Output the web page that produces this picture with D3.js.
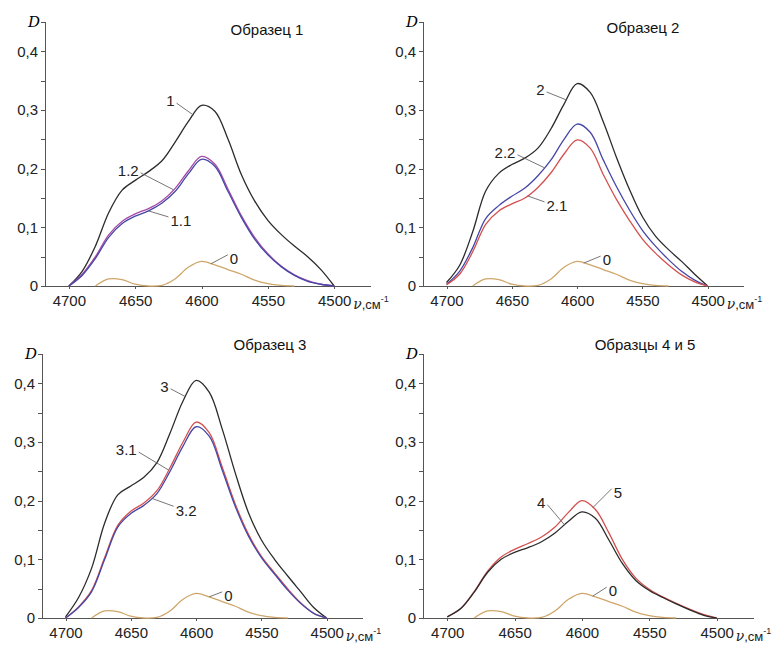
<!DOCTYPE html>
<meta charset="utf-8">
<style>
body {
  margin: 0;
  background: #fff;
  font-family: "Liberation Sans", Arial, sans-serif;
}
.axis line, .axis path { stroke: #555; shape-rendering: crispEdges; }
.tick text { font-size: 15px; fill: #222; }
.title { font-size: 15px; fill: #111; text-anchor: middle; }
.curve { fill: none; stroke-width: 1.3px; }
.lbl { font-size: 15px; fill: #222; }
.leader { stroke: #666; stroke-width: 0.9px; }
.ital { font-family: "DejaVu Serif", "Liberation Serif", serif; font-style: italic; }
</style>
<body>
<script src="https://cdn.jsdelivr.net/npm/d3@7"></script>
<script>
// wavenumbers, cm-1
var nu = [4700, 4690, 4680, 4670, 4660, 4650, 4640, 4630, 4620, 4610, 4600,
          4590, 4580, 4570, 4560, 4550, 4540, 4530, 4520, 4510, 4500];

// optical density D
var d0  = [null, null, 0, 0.012, 0.011, 0.003, 0, 0.001, 0.012, 0.032, 0.042,
           0.036, 0.028, 0.02, 0.01, 0.004, 0.001, 0, null, null, null];

var d1  = [0, 0.025, 0.068, 0.125, 0.163, 0.18, 0.195, 0.213, 0.245, 0.28, 0.308,
           0.298, 0.25, 0.19, 0.145, 0.112, 0.088, 0.068, 0.05, 0.028, 0];
var d11 = [0, 0.018, 0.047, 0.083, 0.106, 0.119, 0.128, 0.141, 0.161, 0.191, 0.216,
           0.204, 0.161, 0.117, 0.08, 0.053, 0.033, 0.018, 0.008, 0.003, 0];
var d12 = [0, 0.02, 0.05, 0.087, 0.11, 0.123, 0.132, 0.145, 0.166, 0.196, 0.221,
           0.208, 0.165, 0.12, 0.083, 0.055, 0.034, 0.019, 0.009, 0.003, 0];

var d2  = [0.006, 0.035, 0.092, 0.162, 0.192, 0.207, 0.218, 0.235, 0.268, 0.31, 0.345,
           0.33, 0.28, 0.22, 0.165, 0.118, 0.085, 0.062, 0.042, 0.02, 0];
var d21 = [0.002, 0.02, 0.058, 0.105, 0.128, 0.14, 0.15, 0.168, 0.193, 0.225, 0.249,
           0.235, 0.19, 0.148, 0.112, 0.08, 0.056, 0.036, 0.019, 0.007, 0];
var d22 = [0.003, 0.025, 0.065, 0.115, 0.137, 0.153, 0.167, 0.188, 0.215, 0.25, 0.276,
           0.262, 0.215, 0.17, 0.13, 0.095, 0.068, 0.045, 0.025, 0.01, 0];

var d3v = [0.002, 0.035, 0.085, 0.162, 0.21, 0.225, 0.24, 0.265, 0.315, 0.37, 0.405,
           0.385, 0.322, 0.247, 0.18, 0.133, 0.1, 0.072, 0.045, 0.018, 0];
var d31 = [0, 0.019, 0.047, 0.103, 0.158, 0.182, 0.196, 0.217, 0.256, 0.3, 0.334,
           0.316, 0.257, 0.194, 0.143, 0.105, 0.077, 0.05, 0.026, 0.008, 0];
var d32 = [0, 0.018, 0.045, 0.1, 0.155, 0.178, 0.192, 0.212, 0.25, 0.293, 0.326,
           0.31, 0.252, 0.19, 0.14, 0.103, 0.075, 0.048, 0.025, 0.008, 0];

var d4  = [0.002, 0.016, 0.044, 0.078, 0.1, 0.112, 0.12, 0.13, 0.145, 0.165, 0.181,
           0.17, 0.133, 0.093, 0.064, 0.047, 0.035, 0.024, 0.014, 0.005, 0];
var d5  = [0.002, 0.016, 0.045, 0.08, 0.104, 0.117, 0.127, 0.138, 0.155, 0.18, 0.2,
           0.185, 0.145, 0.1, 0.068, 0.049, 0.036, 0.025, 0.015, 0.006, 0];

var titles = ["Образец 1", "Образец 2", "Образец 3", "Образцы 4 и 5"];
var xTicks = [4700, 4650, 4600, 4550, 4500];
var yTicks = [0, 0.05, 0.1, 0.15, 0.2, 0.25, 0.3, 0.35, 0.4];
var yTickLabels = {"0": "0", "0.1": "0,1", "0.2": "0,2", "0.3": "0,3", "0.4": "0,4"};

var cBlack = "#2b2b2b", cBlue = "#4646a6", cRed = "#d4504e", cPurple = "#a54aa8", cTan = "#cfa66a";

var panels = [
  { title: titles[0], left: 45, right: 370, y0: 286, tx: 267, ty: 35,
    series: [{ k: "0", v: d0, c: cTan }, { k: "1", v: d1, c: cBlack },
             { k: "1.2", v: d12, c: cPurple }, { k: "1.1", v: d11, c: cBlue }],
    labels: [{ t: "1", s: "1", at: 4606, dx: -17, dy: -12 },
             { t: "1.2", s: "1.2", at: 4621, dx: -33, dy: -17 },
             { t: "1.1", s: "1.1", at: 4640, dx: 20, dy: 6 },
             { t: "0", s: "0", at: 4593, dx: 17, dy: -9 }] },
  { title: titles[1], left: 423, right: 743, y0: 286, tx: 643, ty: 33,
    series: [{ k: "0", v: d0, c: cTan }, { k: "2", v: d2, c: cBlack },
             { k: "2.2", v: d22, c: cBlue }, { k: "2.1", v: d21, c: cRed }],
    labels: [{ t: "2", s: "2", at: 4608, dx: -20, dy: -8 },
             { t: "2.2", s: "2.2", at: 4625, dx: -27, dy: -13 },
             { t: "2.1", s: "2.1", at: 4638, dx: 17, dy: 6 },
             { t: "0", s: "0", at: 4595, dx: 17, dy: -7 }] },
  { title: titles[2], left: 42, right: 362, y0: 618, tx: 270, ty: 350,
    series: [{ k: "0", v: d0, c: cTan }, { k: "3", v: d3v, c: cBlack },
             { k: "3.1", v: d31, c: cRed }, { k: "3.2", v: d32, c: cBlue }],
    labels: [{ t: "3", s: "3", at: 4608, dx: -15, dy: -8 },
             { t: "3.1", s: "3.1", at: 4621, dx: -30, dy: -18 },
             { t: "3.2", s: "3.2", at: 4634, dx: 22, dy: 8 },
             { t: "0", s: "0", at: 4590, dx: 13, dy: -5 }] },
  { title: titles[3], left: 423, right: 753, y0: 618, tx: 645, ty: 350,
    series: [{ k: "0", v: d0, c: cTan }, { k: "5", v: d5, c: cRed },
             { k: "4", v: d4, c: cBlack }],
    labels: [{ t: "4", s: "4", at: 4613, dx: -17, dy: -20 },
             { t: "5", s: "5", at: 4592, dx: 19, dy: -19 },
             { t: "0", s: "0", at: 4592, dx: 14, dy: -9 }] }
];

var svg = d3.select("body").append("svg").attr("width", 774).attr("height", 645);

function valueAt(arr, n) {
  for (var i = 0; i < nu.length - 1; i++) {
    if (n <= nu[i] && n >= nu[i + 1]) {
      var a = arr[i] == null ? 0 : arr[i], b = arr[i + 1] == null ? 0 : arr[i + 1];
      var f = (nu[i] - n) / (nu[i] - nu[i + 1]);
      return a + (b - a) * f;
    }
  }
  return 0;
}

panels.forEach(function(p) {
  var x = d3.scaleLinear().domain([4718, 4473]).range([p.left, p.right]);
  var y = d3.scaleLinear().domain([0, 0.45]).range([p.y0, p.y0 - 264]);
  var g = svg.append("g");

  // axes
  var yAx = g.append("g").attr("class", "axis").attr("transform", "translate(" + p.left + ",0)")
    .call(d3.axisLeft(y).tickValues(yTicks).tickSize(4).tickSizeOuter(4)
      .tickFormat(function(d) { return yTickLabels[String(+d.toFixed(2))] || ""; }));
  yAx.select(".domain").attr("fill", "none");
  yAx.selectAll("text").attr("x", -7);

  var xAx = g.append("g").attr("class", "axis").attr("transform", "translate(0," + p.y0 + ")")
    .call(d3.axisBottom(x).tickValues(xTicks).tickSize(3).tickSizeOuter(0).tickFormat(d3.format("d")));
  xAx.select(".domain").attr("fill", "none");
  xAx.selectAll("text").attr("y", 9);

  g.append("text").attr("class", "ital").attr("x", p.left - 5).attr("y", y(0.45) + 5)
    .attr("text-anchor", "end").style("font-size", "15px").text("D");

  var un = g.append("text").attr("x", x(4500) + 19).attr("y", p.y0 + 23).style("font-size", "13px").attr("fill", "#222");
  un.append("tspan").attr("class", "ital").style("font-size", "14px").text("ν");
  un.append("tspan").text(",см");
  un.append("tspan").attr("dy", -7).style("font-size", "9px").text("-1");

  g.append("text").attr("class", "title").attr("x", p.tx).attr("y", p.ty).text(p.title);

  var line = d3.line()
    .defined(function(d) { return d[1] != null; })
    .x(function(d) { return x(d[0]); })
    .y(function(d) { return y(d[1]); })
    .curve(d3.curveCatmullRom.alpha(0.5));

  p.series.forEach(function(s) {
    g.append("path").attr("class", "curve").attr("stroke", s.c)
      .attr("d", line(nu.map(function(n, i) { return [n, s.v[i]]; })));
  });

  var byKey = {};
  p.series.forEach(function(s) { byKey[s.k] = s.v; });

  p.labels.forEach(function(l) {
    var ax = x(l.at), ay = y(valueAt(byKey[l.s], l.at));
    g.append("line").attr("class", "leader")
      .attr("x1", ax).attr("y1", ay).attr("x2", ax + l.dx).attr("y2", ay + l.dy);
    var right = l.dx > 0;
    g.append("text").attr("class", "lbl")
      .attr("x", ax + l.dx + (right ? 2 : -2))
      .attr("y", ay + l.dy + (right ? 4 : -2))
      .attr("dy", "0.35em")
      .attr("text-anchor", right ? "start" : "end")
      .text(l.t);
  });
});
</script>
</body>
